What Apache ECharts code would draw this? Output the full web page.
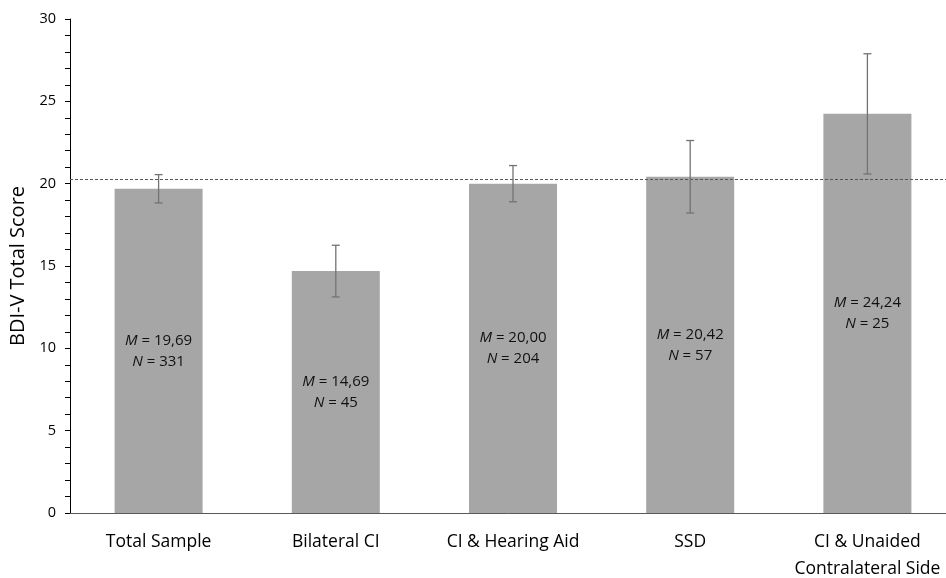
<!DOCTYPE html>
<html>
<head>
<meta charset="utf-8">
<script src="https://cdn.jsdelivr.net/npm/echarts@6/dist/echarts.min.js"></script>
<style>
html,body{margin:0;padding:0;background:#fff;}
#c{width:946px;height:578px;}
</style>
</head>
<body>
<div id="c"></div>
<script>
var categories = ['Total Sample', 'Bilateral CI', 'CI & Hearing Aid', 'SSD', 'CI & Unaided\nContralateral Side'];
var means = [19.69, 14.69, 20.00, 20.42, 24.24];
var errors = [0.86, 1.57, 1.10, 2.20, 3.65];
var ns = [331, 45, 204, 57, 25];
var referenceLine = 20.27;
var yTicks = [0, 5, 10, 15, 20, 25, 30];

var FONT = '"Open Sans", Lato, sans-serif';
var chart = echarts.init(document.getElementById('c'), null, {renderer: 'canvas'});

var errData = means.map(function (m, i) { return [i, m - errors[i], m + errors[i]]; });

chart.setOption({
  animation: false,
  backgroundColor: '#ffffff',
  grid: {left: 70, right: -10, top: 19, bottom: 65, containLabel: false, outerBoundsMode: 'none'},
  xAxis: {
    type: 'category',
    data: categories,
    axisLine: {lineStyle: {color: '#595959', width: 1}},
    axisTick: {show: false},
    axisLabel: {color: '#000', fontFamily: FONT, fontSize: 17.5, margin: 16, lineHeight: 27, interval: 0}
  },
  yAxis: {
    type: 'value',
    min: yTicks[0], max: yTicks[yTicks.length - 1], interval: 5,
    name: 'BDI-V Total Score',
    nameLocation: 'middle',
    nameGap: 41,
    nameTextStyle: {color: '#000', fontFamily: FONT, fontSize: 20},
    axisLine: {show: true, lineStyle: {color: '#000', width: 1}},
    axisTick: {show: true, length: 5, lineStyle: {color: '#000'}},
    minorTick: {show: true, splitNumber: 5, length: 5, lineStyle: {color: '#000'}},
    splitLine: {show: false},
    axisLabel: {color: '#000', fontFamily: FONT, fontSize: 14.5, margin: 14}
  },
  series: [
    {
      type: 'bar',
      data: means,
      barWidth: 88,
      itemStyle: {color: '#a6a6a6'},
      label: {
        show: true,
        position: 'inside',
        color: '#111',
        fontFamily: FONT,
        fontSize: 15,
        lineHeight: 21,
        formatter: function (p) {
          return '{i|M} = ' + means[p.dataIndex].toFixed(2).replace('.', ',') + '\n{i|N} = ' + ns[p.dataIndex];
        },
        rich: {i: {fontStyle: 'italic', fontFamily: FONT, fontSize: 15, color: '#111'}}
      },
      markLine: {
        silent: true,
        symbol: ['none', 'none'],
        label: {show: false},
        lineStyle: {color: '#555', type: [3, 2], width: 1},
        data: [{yAxis: referenceLine}]
      },
      z: 2
    },
    {
      type: 'custom',
      data: errData,
      z: 5,
      renderItem: function (params, api) {
        var x = api.value(0);
        var lo = api.coord([x, api.value(1)]);
        var hi = api.coord([x, api.value(2)]);
        var hw = 4;
        var st = {stroke: '#737373', lineWidth: 1.3};
        return {
          type: 'group',
          children: [
            {type: 'line', shape: {x1: hi[0], y1: hi[1], x2: lo[0], y2: lo[1]}, style: st},
            {type: 'line', shape: {x1: hi[0] - hw, y1: hi[1], x2: hi[0] + hw, y2: hi[1]}, style: st},
            {type: 'line', shape: {x1: lo[0] - hw, y1: lo[1], x2: lo[0] + hw, y2: lo[1]}, style: st}
          ]
        };
      }
    }
  ]
});
</script>
</body>
</html>
